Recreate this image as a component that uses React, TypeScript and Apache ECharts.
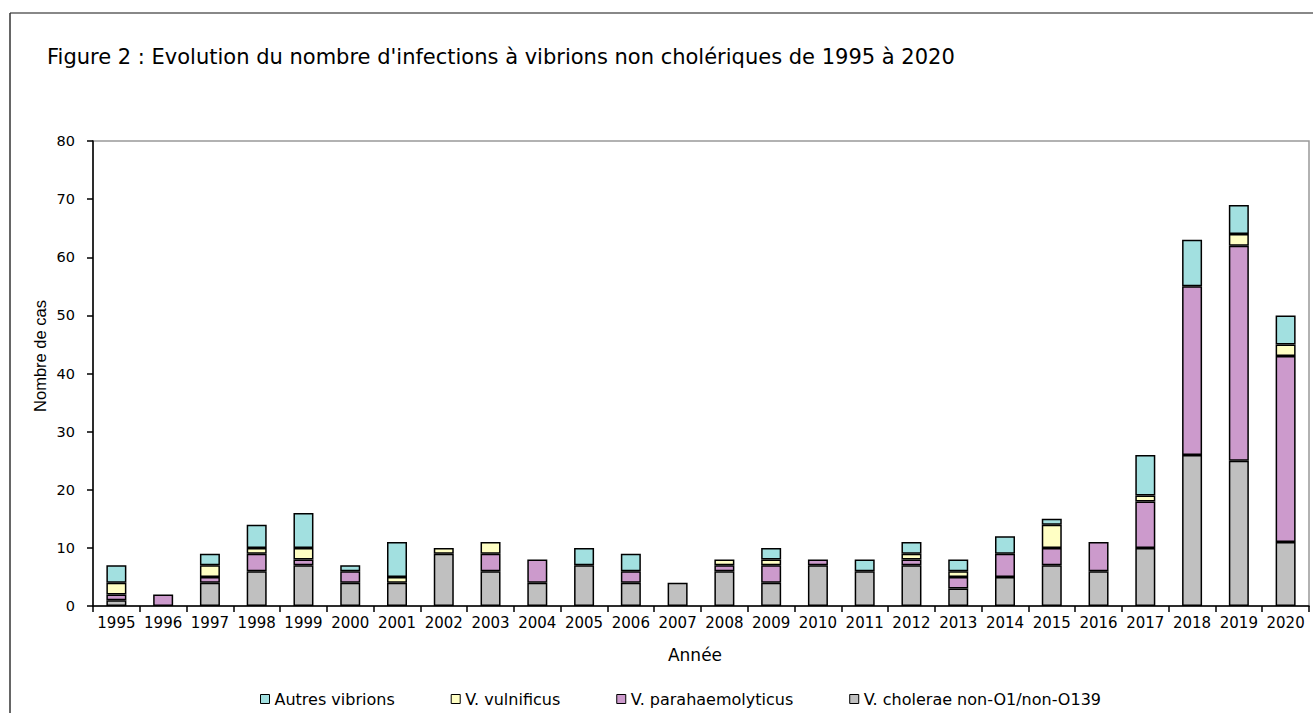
import React, { useEffect, useRef } from "react";
import * as echarts from "echarts";

const years = ["1995","1996","1997","1998","1999","2000","2001","2002","2003","2004","2005","2006","2007","2008","2009","2010","2011","2012","2013","2014","2015","2016","2017","2018","2019","2020"];
const cholerae = [1,0,4,6,7,4,4,9,6,4,7,4,4,6,4,7,6,7,3,5,7,6,10,26,25,11];
const parahaemolyticus = [1,2,1,3,1,2,0,0,3,4,0,2,0,1,3,1,0,1,2,4,3,5,8,29,37,32];
const vulnificus = [2,0,2,1,2,0,1,1,2,0,0,0,0,1,1,0,0,1,1,0,4,0,1,0,2,2];
const autres = [3,0,2,4,6,1,6,0,0,0,3,3,0,0,2,0,2,2,2,3,1,0,7,8,5,5];
const yTicks = { min: 0, max: 80, interval: 10 };

const title = "Figure 2 : Evolution du nombre d'infections à vibrions non cholériques de 1995 à 2020";
const names = {
  autres: "Autres vibrions",
  vuln: "V. vulnificus",
  para: "V. parahaemolyticus",
  chol: "V. cholerae non-O1/non-O139",
};
const colors = { autres: "#A2E0E0", vuln: "#FFFFC4", para: "#CC9ACC", chol: "#C0C0C0" };

const VERDANA = "DejaVu Sans";

export default function App() {
  const ref = useRef<HTMLDivElement>(null);
  useEffect(() => {
    if (!ref.current) return;
    const chart = echarts.init(ref.current, null, { renderer: "svg" });
    const mk = (name: string, data: number[], color: string) => ({
      name,
      type: "bar",
      stack: "total",
      barWidth: 20,
      data: data.map((v) => (v === 0 ? null : v)),
      itemStyle: { color, borderColor: "#000", borderWidth: 1.5 },
      emphasis: { disabled: true },
    });
    chart.setOption({
      animation: false,
      backgroundColor: "#fff",
      title: {
        text: title,
        left: 42,
        top: 41,
        textStyle: { fontFamily: VERDANA, fontSize: 21, fontWeight: "normal", color: "#000" },
      },
      grid: {
        left: 93,
        right: 4,
        top: 141,
        bottom: 107,
        show: true,
        borderColor: "#999",
        borderWidth: 1.5,
      },
      legend: {
        left: 255,
        top: 686,
        itemWidth: 9,
        itemHeight: 9,
        itemGap: 56,
        icon: "rect",
        data: [names.autres, names.vuln, names.para, names.chol],
        textStyle: { fontFamily: VERDANA, fontSize: 16, color: "#000" },
        itemStyle: { borderColor: "#000", borderWidth: 1 },
      },
      xAxis: {
        type: "category",
        data: years,
        boundaryGap: true,
        axisLine: { lineStyle: { color: "#000", width: 1.5 } },
        axisTick: { show: true, alignWithLabel: false, length: 6, lineStyle: { color: "#000", width: 1.5 } },
        axisLabel: { interval: 0, hideOverlap: false, fontFamily: VERDANA, fontSize: 15, color: "#000", margin: 9 },
      },
      yAxis: {
        type: "value",
        min: yTicks.min,
        max: yTicks.max,
        interval: yTicks.interval,
        axisLine: { show: true, lineStyle: { color: "#000", width: 1.5 } },
        axisTick: { show: true, length: 6, lineStyle: { color: "#000", width: 1.5 } },
        axisLabel: { fontFamily: VERDANA, fontSize: 14.5, color: "#000", margin: 18 },
        splitLine: { show: false },
      },
      graphic: [
        { type: "line", shape: { x1: 10, y1: 13, x2: 1313, y2: 13 }, style: { stroke: "#888", lineWidth: 2 } },
        { type: "line", shape: { x1: 10, y1: 13, x2: 10, y2: 713 }, style: { stroke: "#333", lineWidth: 1.5 } },
        {
          type: "text",
          x: 695,
          y: 655,
          style: { text: "Année", font: `17px "${VERDANA}"`, fill: "#000", align: "center", verticalAlign: "middle" },
        },
        {
          type: "text",
          x: 40,
          y: 356,
          rotation: Math.PI / 2,
          style: { text: "Nombre de cas", font: `16.5px "Liberation Sans"`, fill: "#000", align: "center", verticalAlign: "middle" },
        },
      ],
      series: [
        mk(names.chol, cholerae, colors.chol),
        mk(names.para, parahaemolyticus, colors.para),
        mk(names.vuln, vulnificus, colors.vuln),
        mk(names.autres, autres, colors.autres),
      ],
    });
    return () => chart.dispose();
  }, []);
  return <div ref={ref} style={{ position: "fixed", left: 0, top: 0, width: 1313, height: 713 }} />;
}
